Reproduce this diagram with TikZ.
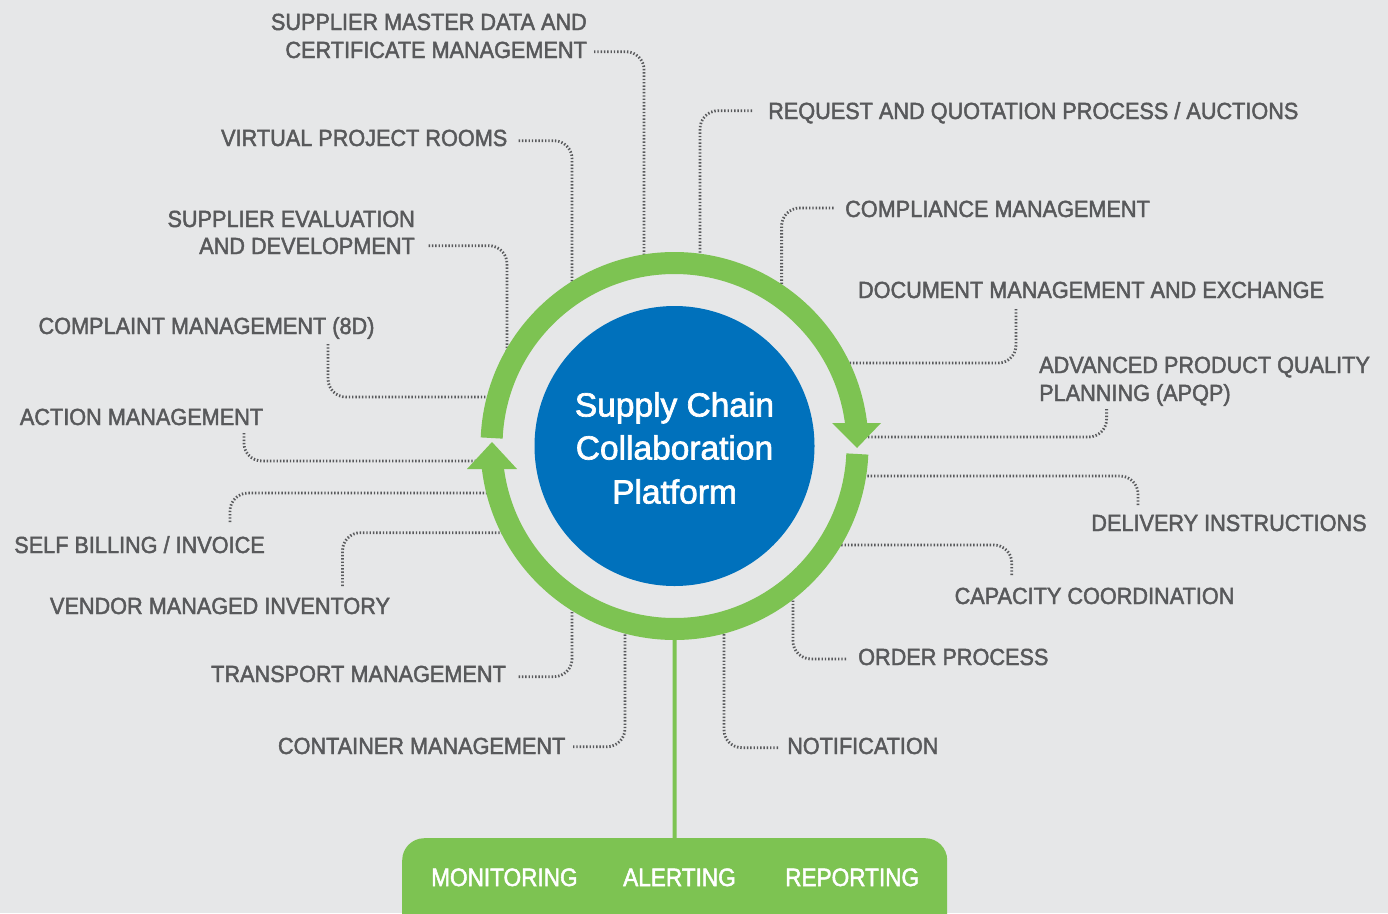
\documentclass[tikz,border=0pt]{standalone}
\usepackage{fontspec}
\setmainfont{Liberation Sans}[FakeBold=2]
\newfontfamily\labfont{Liberation Sans}[FakeStretch=0.93,FakeBold=2]
\newfontfamily\botfont{Liberation Sans}[FakeStretch=0.9,FakeBold=2]
\definecolor{bg}{HTML}{E6E7E8}
\definecolor{txtgray}{HTML}{58595B}
\definecolor{dotgray}{HTML}{58595B}
\definecolor{grn}{HTML}{7DC352}
\definecolor{blu}{HTML}{0071BC}
\begin{document}
\begin{tikzpicture}[x=1pt,y=1pt,
  lab/.style={font=\labfont\fontsize{23.3}{28}\selectfont, text=txtgray, inner sep=0pt},
  conn/.style={draw=dotgray, line width=2.8pt, dash pattern=on 1.4pt off 1.9pt, rounded corners=18pt},
  ringarc/.style={draw=grn, line width=22pt},
  ctext/.style={font=\fontsize{33.5}{40}\selectfont, text=white, inner sep=0pt, anchor=base},
  btext/.style={font=\botfont\fontsize{25.1}{30}\selectfont, text=white, inner sep=0pt, anchor=base west}]
\fill[bg] (0,0) rectangle (1388,-913);
\useasboundingbox (0,0) rectangle (1388,-913);
\coordinate (C) at (674.5,-446);

% labels
\node[lab, anchor=base east] (smd1) at (587,-30) {SUPPLIER MASTER DATA AND};
\node[lab, anchor=base east] (smd2) at (587,-58) {CERTIFICATE MANAGEMENT};
\node[lab, anchor=base west] (rqp) at (768,-119) {REQUEST AND QUOTATION PROCESS / AUCTIONS};
\node[lab, anchor=base east] (vpr) at (507.5,-146) {VIRTUAL PROJECT ROOMS};
\node[lab, anchor=base west] (cpm) at (845,-217) {COMPLIANCE MANAGEMENT};
\node[lab, anchor=base east] (sed1) at (415,-227) {SUPPLIER EVALUATION};
\node[lab, anchor=base east] (sed2) at (415,-254) {AND DEVELOPMENT};
\node[lab, anchor=base] (dme) at (1091,-298) {DOCUMENT MANAGEMENT AND EXCHANGE};
\node[lab, anchor=base] (cm8) at (206.5,-334) {COMPLAINT MANAGEMENT (8D)};
\node[lab, anchor=base west] (apq1) at (1039,-373) {ADVANCED PRODUCT QUALITY};
\node[lab, anchor=base west] (apq2) at (1039,-401) {PLANNING (APQP)};
\node[lab, anchor=base] (act) at (141.5,-425) {ACTION MANAGEMENT};
\node[lab, anchor=base] (dlv) at (1229,-531) {DELIVERY INSTRUCTIONS};
\node[lab, anchor=base] (sbi) at (139.5,-553) {SELF BILLING / INVOICE};
\node[lab, anchor=base] (cap) at (1094.5,-604) {CAPACITY COORDINATION};
\node[lab, anchor=base] (vmi) at (220,-614) {VENDOR MANAGED INVENTORY};
\node[lab, anchor=base west] (ord) at (858,-665) {ORDER PROCESS};
\node[lab, anchor=base east] (trm) at (506,-682) {TRANSPORT MANAGEMENT};
\node[lab, anchor=base east] (ctm) at (565.5,-754) {CONTAINER MANAGEMENT};
\node[lab, anchor=base west] (ntf) at (787,-754) {NOTIFICATION};

% connector end points
\coordinate (a1) at (594,-51.7);   \coordinate (b1) at (644,-262);
\coordinate (a2) at (752,-110.7);  \coordinate (b2) at (700,-262);
\coordinate (a3) at (518.6,-140.7);\coordinate (b3) at (572,-288);
\coordinate (a4) at (833.5,-208);  \coordinate (b4) at (781.6,-292);
\coordinate (a5) at (428.6,-245.7);\coordinate (b5) at (507,-356);
\coordinate (a6) at (1016,-309);   \coordinate (b6) at (842,-363);
\coordinate (a7) at (328,-344);    \coordinate (b7) at (494,-397);
\coordinate (a8) at (1106.6,-409); \coordinate (b8) at (862,-437);
\coordinate (a9) at (244,-433);    \coordinate (b9) at (480,-461);
\coordinate (a10) at (1138,-505);  \coordinate (b10) at (860,-476);
\coordinate (a11) at (230,-522);   \coordinate (b11) at (494,-493);
\coordinate (a12) at (342.5,-586); \coordinate (b12) at (509,-532.7);
\coordinate (a13) at (1011.8,-575);\coordinate (b13) at (834,-545);
\coordinate (a14) at (846,-659);   \coordinate (b14) at (793,-593);
\coordinate (a15) at (518.6,-676.7);\coordinate (b15) at (572,-604);
\coordinate (a16) at (573,-746.7); \coordinate (b16) at (625,-627);
\coordinate (a17) at (778,-747.7); \coordinate (b17) at (724,-627);

\draw[conn] (a1) -| (b1);
\draw[conn] (a2) -| (b2);
\draw[conn] (a3) -| (b3);
\draw[conn] (a4) -| (b4);
\draw[conn] (a5) -| (b5);
\draw[conn] (a6) |- (b6);
\draw[conn] (a7) |- (b7);
\draw[conn] (a8) |- (b8);
\draw[conn] (a9) |- (b9);
\draw[conn] (a10) |- (b10);
\draw[conn] (a11) |- (b11);
\draw[conn] (a12) |- (b12);
\draw[conn] (a13) |- (b13);
\draw[conn] (a14) -| (b14);
\draw[conn] (a15) -| (b15);
\draw[conn] (a16) -| (b16);
\draw[conn] (a17) -| (b17);

% ring
\draw[ringarc] ([shift={(177.5:183)}]C) arc[start angle=177.5, end angle=6.5, radius=183];
\fill[grn] (832,-423) -- (881,-423) -- (857,-448) -- cycle;
\draw[ringarc] ([shift={(-2.5:183)}]C) arc[start angle=-2.5, end angle=-173.5, radius=183];
\fill[grn] (467,-469) -- (517,-469) -- (492,-442) -- cycle;

% center
\fill[blu] (C) circle[radius=140];
\node[ctext] (t1) at (674.5,-416.5) {Supply Chain};
\node[ctext] (t2) at (674.5,-459.5) {Collaboration};
\node[ctext] (t3) at (674.5,-503.5) {Platform};

% bottom
\coordinate (rb) at (674.5,-638);
\node[fill=grn, rounded corners=22pt, minimum width=545pt, minimum height=110pt, anchor=north west, inner sep=0pt] (box) at (402,-838) {};
\draw[grn, line width=4pt] (rb) -- (box.north);
\node[btext] (mon) at (431,-886) {MONITORING};
\node[btext] (alr) at (623,-886) {ALERTING};
\node[btext] (rep) at (785,-886) {REPORTING};
\end{tikzpicture}
\end{document}
